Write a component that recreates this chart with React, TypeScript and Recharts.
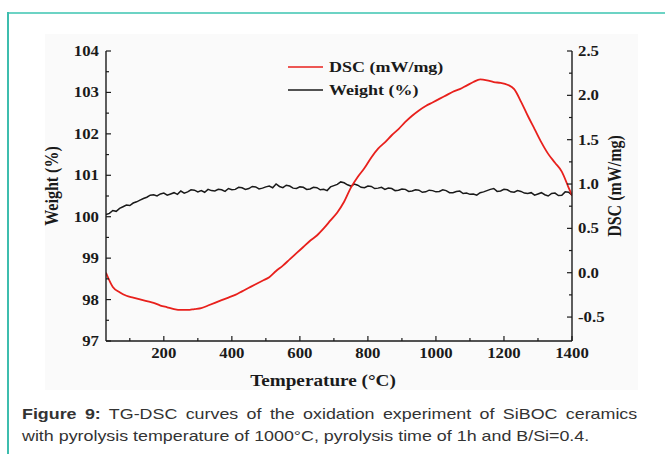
import { ComposedChart, Line, XAxis, YAxis, Legend, Label } from "recharts";

// DSC curve: temperature (°C) and heat flow (mW/mg)
const dscTemps = [
  30, 50, 70, 90, 110, 130, 150, 170, 190, 210, 230, 250, 270, 290, 310, 330, 350, 370, 390, 410,
  430, 450, 470, 490, 510, 530, 550, 570, 590, 610, 630, 650, 670, 690, 710, 730, 750, 770, 790, 810,
  830, 850, 870, 890, 910, 930, 950, 970, 990, 1010, 1030, 1050, 1070, 1090, 1110, 1130, 1150, 1170,
  1190, 1210, 1230, 1250, 1270, 1290, 1310, 1330, 1350, 1370, 1390, 1400,
];
const dsc = [
  0.0, -0.16, -0.22, -0.26, -0.28, -0.3, -0.32, -0.34, -0.37, -0.39, -0.41, -0.42, -0.42, -0.41,
  -0.4, -0.37, -0.34, -0.31, -0.28, -0.25, -0.21, -0.17, -0.13, -0.09, -0.05, 0.02, 0.08, 0.15, 0.22,
  0.29, 0.36, 0.42, 0.5, 0.59, 0.68, 0.8, 0.96, 1.08, 1.18, 1.3, 1.4, 1.47, 1.55, 1.62, 1.7, 1.77,
  1.83, 1.88, 1.92, 1.96, 2.0, 2.04, 2.07, 2.11, 2.15, 2.18, 2.17, 2.15, 2.14, 2.12, 2.07, 1.93, 1.77,
  1.62, 1.47, 1.34, 1.24, 1.14, 0.96, 0.87,
];

// TG curve: temperature (°C) and weight (%)
const weightTemps = [
  30, 40, 50, 60, 70, 80, 90, 100, 110, 120, 130, 140, 150, 160, 170, 180, 190, 200, 210, 220, 230,
  240, 250, 260, 270, 280, 290, 300, 310, 320, 330, 340, 350, 360, 370, 380, 390, 400, 410, 420, 430,
  440, 450, 460, 470, 480, 490, 500, 510, 520, 530, 540, 550, 560, 570, 580, 590, 600, 610, 620, 630,
  640, 650, 660, 670, 680, 690, 700, 710, 720, 730, 740, 750, 760, 770, 780, 790, 800, 810, 820, 830,
  840, 850, 860, 870, 880, 890, 900, 910, 920, 930, 940, 950, 960, 970, 980, 990, 1000, 1010, 1020,
  1030, 1040, 1050, 1060, 1070, 1080, 1090, 1100, 1110, 1120, 1130, 1140, 1150, 1160, 1170, 1180,
  1190, 1200, 1210, 1220, 1230, 1240, 1250, 1260, 1270, 1280, 1290, 1300, 1310, 1320, 1330, 1340,
  1350, 1360, 1370, 1380, 1390, 1400,
];
const weight = [
  100.05, 100.08, 100.15, 100.13, 100.2, 100.24, 100.28, 100.27, 100.33, 100.36, 100.4, 100.44,
  100.47, 100.52, 100.53, 100.5, 100.55, 100.57, 100.52, 100.55, 100.58, 100.54, 100.62, 100.57,
  100.6, 100.65, 100.64, 100.6, 100.63, 100.59, 100.66, 100.63, 100.62, 100.66, 100.65, 100.61,
  100.68, 100.65, 100.66, 100.71, 100.7, 100.66, 100.68, 100.73, 100.72, 100.67, 100.69, 100.72,
  100.74, 100.7, 100.79, 100.73, 100.7, 100.76, 100.74, 100.69, 100.68, 100.72, 100.71, 100.66,
  100.67, 100.71, 100.7, 100.65, 100.66, 100.63, 100.72, 100.75, 100.78, 100.84, 100.82, 100.77,
  100.74, 100.79, 100.76, 100.71, 100.7, 100.74, 100.73, 100.68, 100.69, 100.71, 100.66, 100.69,
  100.68, 100.63, 100.64, 100.67, 100.66, 100.61, 100.62, 100.65, 100.64, 100.59, 100.6, 100.64,
  100.63, 100.6, 100.61, 100.65, 100.63, 100.58, 100.58, 100.61, 100.62, 100.56, 100.57, 100.54,
  100.55, 100.52, 100.58, 100.6, 100.63, 100.66, 100.68, 100.61, 100.62, 100.66, 100.65, 100.6,
  100.59, 100.63, 100.61, 100.57, 100.56, 100.58, 100.52, 100.55, 100.58, 100.53, 100.5, 100.56,
  100.57, 100.51, 100.52, 100.6, 100.59, 100.52,
];

const xTicks = [100, 200, 300, 400, 500, 600, 700, 800, 900, 1000, 1100, 1200, 1300, 1400];
const leftTicks = [97, 97.5, 98, 98.5, 99, 99.5, 100, 100.5, 101, 101.5, 102, 102.5, 103, 103.5, 104];
const rightTicks = [-0.5, -0.25, 0, 0.25, 0.5, 0.75, 1, 1.25, 1.5, 1.75, 2, 2.25, 2.5];

const dscData = dscTemps.map((t, i) => ({ t, dsc: dsc[i] }));
const weightData = weightTemps.map((t, i) => ({ t, weight: weight[i] }));

const SERIF = '"Liberation Serif", "Times New Roman", serif';
const INK = "#1a1a1a";
const RED = "#e8201c";

const BottomTick = ({ x, y, payload }: any) => {
  const v = payload.value;
  const major = v % 200 === 0;
  return (
    <g>
      <line x1={x} x2={x} y1={y} y2={y - (major ? 5 : 3)} stroke={INK} strokeWidth={1.2} />
      {major && (
        <text transform={`translate(${x},${y + 17}) scale(1.2,1)`} textAnchor="middle"
          fontFamily={SERIF} fontWeight="bold" fontSize={14} fill={INK}>{v}</text>
      )}
    </g>
  );
};

const LeftTick = ({ x, y, payload }: any) => {
  const v = payload.value;
  const major = Number.isInteger(v);
  return (
    <g>
      <line x1={x} x2={x + (major ? 5 : 3)} y1={y} y2={y} stroke={INK} strokeWidth={1.2} />
      {major && (
        <text transform={`translate(${x - 7},${y + 5}) scale(1.2,1)`} textAnchor="end"
          fontFamily={SERIF} fontWeight="bold" fontSize={14} fill={INK}>{v}</text>
      )}
    </g>
  );
};

const RightTick = ({ x, y, payload }: any) => {
  const v = payload.value;
  const major = Math.abs(v * 2 - Math.round(v * 2)) < 1e-6;
  return (
    <g>
      <line x1={x} x2={x - (major ? 5 : 3)} y1={y} y2={y} stroke={INK} strokeWidth={1.2} />
      {major && (
        <text transform={`translate(${x + 6},${y + 5}) scale(1.2,1)`} textAnchor="start"
          fontFamily={SERIF} fontWeight="bold" fontSize={14} fill={INK}>{v.toFixed(1)}</text>
      )}
    </g>
  );
};

const LegendBox = ({ payload }: any) => {
  const order = ["DSC (mW/mg)", "Weight (%)"];
  const items = order.map((n) => (payload || []).find((p: any) => p.value === n)).filter(Boolean);
  return (
    <svg width={180} height={50}>
      {items.map((p: any, i: number) => (
        <g key={p.value} transform={`translate(0,${9 + i * 23})`}>
          <line x1={0} x2={35} y1={0} y2={0} stroke={p.color} strokeWidth={1.6} />
          <text transform={`translate(41,5) scale(1.2,1)`} fontFamily={SERIF} fontWeight="bold"
            fontSize={15} fill={INK}>{p.value}</text>
        </g>
      ))}
    </svg>
  );
};

const verticalTitle = (text: string, dx: number) => ({ viewBox }: any) => {
  const cx = viewBox.x + dx;
  const cy = 186;
  return (
    <text transform={`translate(${cx},${cy}) rotate(-90) scale(1,1.2)`} textAnchor="middle" fontFamily={SERIF}
      fontWeight="bold" fontSize={16} fill={INK}>{text}</text>
  );
};

export default function App() {
  return (
    <div style={{ position: "absolute", left: 0, top: 0, width: 665, height: 454, background: "#fff", overflow: "hidden" }}>
      <div style={{ position: "absolute", left: 45, top: 34, width: 593, height: 356, background: "#fafafa" }} />
      <div style={{ position: "absolute", left: 8, top: 12, width: 657, height: 2, background: "#6cd3c4" }} />
      <div style={{ position: "absolute", left: 7, top: 12, width: 2, height: 442, background: "#3dbdae" }} />
      <div style={{ position: "absolute", left: 0, top: 0 }}>
        <ComposedChart width={665} height={400} margin={{ top: 51, right: 33, bottom: 19, left: 46 }}>
          <XAxis dataKey="t" type="number" domain={[30, 1400]} ticks={xTicks} interval={0}
            tickSize={0} tickMargin={0} tickLine={false} tick={<BottomTick />}
            axisLine={{ stroke: INK, strokeWidth: 1.4 }} height={40} allowDataOverflow>
            <Label content={({ viewBox }: any) => (
              <text transform={`translate(${viewBox.x + viewBox.width / 2 - 16},${viewBox.y + 45}) scale(1.2,1)`}
                textAnchor="middle" fontFamily={SERIF} fontWeight="bold" fontSize={16} fill={INK}>
                Temperature (°C)
              </text>
            )} />
          </XAxis>
          <XAxis xAxisId="top" orientation="top" dataKey="t" type="number" domain={[30, 1400]}
            tick={false} tickLine={false} height={0} axisLine={{ stroke: INK, strokeWidth: 1.4 }} />
          <YAxis yAxisId="w" orientation="left" domain={[97, 104]} ticks={leftTicks} interval={0}
            tickSize={0} tickMargin={0} tickLine={false} tick={<LeftTick />} width={60}
            axisLine={{ stroke: INK, strokeWidth: 1.4 }} allowDataOverflow>
            <Label content={verticalTitle("Weight (%)", 12)} />
          </YAxis>
          <YAxis yAxisId="d" orientation="right" domain={[-0.77, 2.5]} ticks={rightTicks} interval={0}
            tickSize={0} tickMargin={0} tickLine={false} tick={<RightTick />} width={60}
            axisLine={{ stroke: INK, strokeWidth: 1.4 }} allowDataOverflow>
            <Label content={verticalTitle("DSC (mW/mg)", 49)} />
          </YAxis>
          <Legend layout="horizontal" verticalAlign="middle" align="center" content={<LegendBox />}
            wrapperStyle={{ position: "absolute", left: 288, top: 58, width: 180, height: 50 }} />
          <Line yAxisId="w" data={weightData} dataKey="weight" name="Weight (%)" stroke={INK} strokeWidth={1.5}
            dot={false} type="linear" isAnimationActive={false} />
          <Line yAxisId="d" data={dscData} dataKey="dsc" name="DSC (mW/mg)" stroke={RED} strokeWidth={1.8}
            dot={false} type="monotone" isAnimationActive={false} />
        </ComposedChart>
      </div>
      <div style={{ position: "absolute", left: 22, top: 403, width: 517, transform: "scaleX(1.19)", transformOrigin: "0 0",
        fontFamily: '"Liberation Sans", Arial, sans-serif', fontSize: 15, lineHeight: "22px", color: "#333" }}>
        <div style={{ textAlign: "justify", textAlignLast: "justify", whiteSpace: "nowrap" }}>
          <b>Figure 9:</b> TG-DSC curves of the oxidation experiment of SiBOC ceramics
        </div>
        <div style={{ whiteSpace: "nowrap" }}>with pyrolysis temperature of 1000°C, pyrolysis time of 1h and B/Si=0.4.</div>
      </div>
    </div>
  );
}
